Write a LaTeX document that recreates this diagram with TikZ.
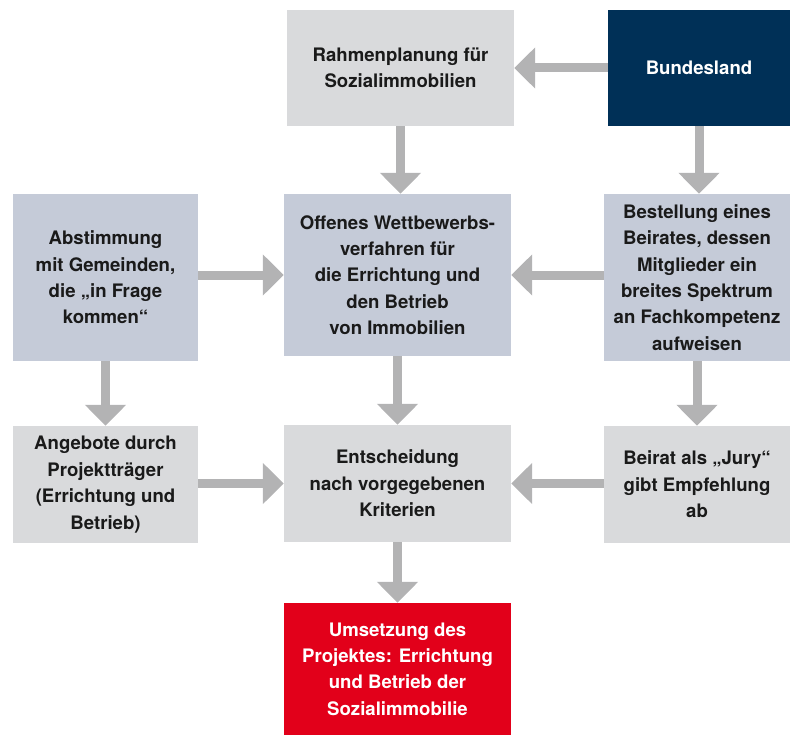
\documentclass[tikz,border=0pt]{standalone}
\usepackage{fontspec}
\setmainfont{TeX Gyre Heros}
\usetikzlibrary{arrows.meta}
\definecolor{lgray}{HTML}{D9DADC}
\definecolor{bgray}{HTML}{C5CBD8}
\definecolor{navy}{HTML}{003057}
\definecolor{cred}{HTML}{E2001A}
\definecolor{arrgray}{HTML}{B3B3B4}
\definecolor{txt}{HTML}{1A1A1A}
\tikzset{
  box/.style={rectangle, inner sep=0pt, align=center, text=txt,
    font=\fontsize{18.6}{26.4}\selectfont\bfseries},
  graybox/.style={box, fill=lgray},
  bluebox/.style={box, fill=bgray},
  navybox/.style={box, fill=navy, text=white},
  redbox/.style={box, fill=cred, text=white},
  flow/.style={draw=arrgray, line width=9pt, line cap=butt,
    -{Triangle[width=40pt,length=21pt]}, shorten >=0pt}
}
\begin{document}
\begin{tikzpicture}[x=1pt,y=-1pt]
\useasboundingbox (0,0) rectangle (791,735);
\node[graybox, minimum width=227pt, minimum height=116pt] (rahmen) at (400.5,68) {Rahmenplanung für\\Sozialimmobilien};
\node[navybox, minimum width=182pt, minimum height=116pt] (bund) at (699,68) {Bundesland};
\node[bluebox, minimum width=185pt, minimum height=167pt] (abst) at (105.5,277.5) {Abstimmung\\mit Gemeinden,\\die „in Frage\\kommen“};
\node[bluebox, minimum width=227pt, minimum height=162pt] (offen) at (397.5,275) {Offenes Wettbewerbs-\\verfahren für\\die Errichtung und\\den Betrieb\\von Immobilien};
\node[bluebox, minimum width=186pt, minimum height=167pt] (best) at (697,277.5) {Bestellung eines\\Beirates, dessen\\Mitglieder ein\\breites Spektrum\\an Fachkompetenz\\aufweisen};
\node[graybox, minimum width=185pt, minimum height=117pt] (angeb) at (105.5,484.5) {Angebote durch\\Projektträger\\(Errichtung und\\Betrieb)};
\node[graybox, minimum width=227pt, minimum height=117pt] (entsch) at (397.5,483.5) {Entscheidung\\nach vorgegebenen\\Kriterien};
\node[graybox, minimum width=186pt, minimum height=117pt] (beirat) at (697,484.5) {Beirat als „Jury“\\gibt Empfehlung\\ab};
\node[redbox, minimum width=227pt, minimum height=132pt] (umsetz) at (397.5,669) {Umsetzung des\\Projektes: Errichtung\\und Betrieb der\\Sozialimmobilie};
\draw[flow] (bund.west) -- (rahmen.east |- bund.west);
\draw[flow] (rahmen.south) -- (rahmen.south |- offen.north);
\draw[flow] (bund.south) -- (bund.south |- best.north);
\draw[flow] (abst.east |- offen.west) -- (offen.west);
\draw[flow] (best.west |- offen.east) -- (offen.east);
\draw[flow] (abst.south) -- (angeb.north);
\draw[flow] (offen.south) -- (entsch.north);
\draw[flow] (best.south) -- (beirat.north);
\draw[flow] (angeb.east |- entsch.west) -- (entsch.west);
\draw[flow] (beirat.west |- entsch.east) -- (entsch.east);
\draw[flow] (entsch.south) -- (umsetz.north);
\end{tikzpicture}
\end{document}
